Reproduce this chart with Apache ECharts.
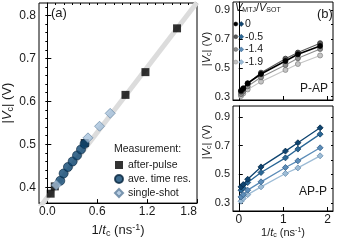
<!DOCTYPE html>
<html><head><meta charset="utf-8">
<script src="https://cdn.jsdelivr.net/npm/echarts@6/dist/echarts.min.js"></script>
<style>html,body{margin:0;padding:0;background:#fff}#c{width:338px;height:243px}</style>
</head><body><div id="c"></div>
<script>
// ---------- Panel (a) data ----------
const fitX = [-0.1, 1.8];
const fitY = [0.351, 0.830];
const afterPulseX = [0.04, 0.09, 0.45, 0.94, 1.18, 1.56];
const afterPulseY = [0.385, 0.402, 0.503, 0.615, 0.668, 0.770];
const aveTimeX = [0.156, 0.196, 0.248, 0.304, 0.357, 0.405, 0.448];
const aveTimeY = [0.415, 0.432, 0.447, 0.460, 0.474, 0.488, 0.501];
const singleShotX = [0.108, 0.489, 0.628, 0.756];
const singleShotY = [0.405, 0.515, 0.542, 0.572];
const xTicksA = [0, 0.6, 1.2, 1.8];
const yTicksA = [0.4, 0.5, 0.6, 0.7, 0.8];
const measNames = ['after-pulse', 'ave. time res.', 'single-shot'];

// ---------- Panel (b) data ----------
const ratioLabels = ['0', '-0.5', '-1.4', '-1.9'];
const bX = [0.05, 0.1, 0.2, 0.5, 1.05, 1.33, 1.83];
const papV0  = [0.342, 0.358, 0.393, 0.457, 0.547, 0.593, 0.651];
const papV05 = [0.335, 0.352, 0.390, 0.466, 0.563, 0.605, 0.670];
const papV14 = [0.318, 0.337, 0.372, 0.434, 0.519, 0.566, 0.630];
const papV19 = [0.305, 0.322, 0.350, 0.404, 0.485, 0.526, 0.585];
const appV0  = [0.412, 0.428, 0.465, 0.551, 0.661, 0.719, 0.823];
const appV05 = [0.389, 0.405, 0.442, 0.512, 0.614, 0.675, 0.779];
const appV14 = [0.342, 0.358, 0.389, 0.447, 0.547, 0.593, 0.684];
const appV19 = [0.312, 0.331, 0.358, 0.412, 0.505, 0.544, 0.628];
const xTicksB = [0, 1, 2];
const yTicksB = [0.3, 0.5, 0.7, 0.9];

// ---------- styling ----------
const FONT = 'Liberation Sans, Arial, sans-serif';
const TXT = '#1a1a1a';
const papColors = ['#000000', '#5a5a5a', '#8e8e8e', '#c4c4c4'];
const papBorders = ['#000000', '#333333', '#5e5e5e', '#8a8a8a'];
const appColors = ['#0e4470', '#2a6796', '#5b8cb8', '#9dbcd6'];
const appBorders = ['#082a47', '#174468', '#36618a', '#6a8fb0'];
const papData = [papV0, papV05, papV14, papV19];
const appData = [appV0, appV05, appV14, appV19];

const zip = (xs, ys) => xs.map((x, i) => [x, ys[i]]);
function steps(a, b, s) { const r = []; const n = Math.round((b - a) / s); for (let i = 0; i <= n; i++) r.push(+(a + i * s).toFixed(4)); return r; }

const rich = {
  i: { fontStyle: 'italic', fontFamily: FONT, fontSize: 13 },
  sub: { fontSize: 9, padding: [6, 0, 0, 0], fontFamily: FONT },
  sup: { fontSize: 9, padding: [0, 0, 6, 0], fontFamily: FONT }
};
const richS = {
  i: { fontStyle: 'italic', fontFamily: FONT, fontSize: 11 },
  sub: { fontSize: 7, padding: [5, 0, 0, 0], fontFamily: FONT },
  sup: { fontSize: 7, padding: [0, 0, 5, 0], fontFamily: FONT }
};

function mainAxis(grid, min, max, ticks, fmt, fs, showLabel) {
  return {
    type: 'value', gridIndex: grid, min, max,
    axisLine: { show: true, lineStyle: { color: '#000', width: 1 } },
    axisTick: { show: true, inside: true, length: 4, customValues: ticks, lineStyle: { color: '#000' } },
    axisLabel: { show: showLabel, customValues: ticks, formatter: fmt, fontSize: fs, color: TXT, fontFamily: FONT, margin: 3 },
    splitLine: { show: false }
  };
}
function minorAxis(grid, min, max, ticks) {
  return {
    type: 'value', gridIndex: grid, min, max,
    axisLine: { show: false },
    axisTick: { show: true, inside: true, length: 2, customValues: ticks, lineStyle: { color: '#000' } },
    axisLabel: { show: false },
    splitLine: { show: false }
  };
}

const aXMin = -0.1, aXMax = 1.8, aYMin = 0.363, aYMax = 0.829;
const bXMin = -0.13, bXMax = 2.12;
const b1YMin = 0.277, b1YMax = 0.955, b2YMin = 0.244, b2YMax = 0.975;

const xAxes = [
  Object.assign(mainAxis(0, aXMin, aXMax, xTicksA, v => v.toFixed(1), 12, true), {
    name: '1/{i|t}{sub|c} (ns{sup|-1})', nameLocation: 'middle', nameGap: 18,
    nameTextStyle: { fontSize: 13, color: TXT, fontFamily: FONT, rich: rich }
  }),
  minorAxis(0, aXMin, aXMax, steps(0, 1.8, 0.1)),
  mainAxis(1, bXMin, bXMax, xTicksB, v => String(v), 11, false),
  Object.assign(mainAxis(2, bXMin, bXMax, xTicksB, v => String(v), 12, true), {
    name: '1/{i|t}{sub|c} (ns{sup|-1})', nameLocation: 'middle', nameGap: 16,
    nameTextStyle: { fontSize: 11, color: TXT, fontFamily: FONT, rich: richS }
  }),
];
xAxes[0].axisLabel.alignMaxLabel = 'right';

const yAxes = [
  Object.assign(mainAxis(0, aYMin, aYMax, yTicksA, v => v.toFixed(1), 12, true), {
    name: '|{i|V}{sub|c}| (V)', nameLocation: 'middle', nameGap: 24,
    nameTextStyle: { fontSize: 13, color: TXT, fontFamily: FONT, rich: rich }
  }),
  minorAxis(0, aYMin, aYMax, steps(0.38, 0.82, 0.02)),
  mainAxis(1, b1YMin, b1YMax, yTicksB, v => v.toFixed(1), 11, true),
  minorAxis(1, b1YMin, b1YMax, steps(0.3, 0.9, 0.1)),
  mainAxis(2, b2YMin, b2YMax, yTicksB, v => v.toFixed(1), 11, true),
  minorAxis(2, b2YMin, b2YMax, steps(0.3, 0.9, 0.1)),
];

const series = [
  { name: 'fit', type: 'line', xAxisIndex: 0, yAxisIndex: 0, data: zip(fitX, fitY), symbol: 'none',
    lineStyle: { color: '#dcdcdc', width: 5 }, z: 1, silent: true },
  { name: measNames[0], type: 'scatter', xAxisIndex: 0, yAxisIndex: 0, data: zip(afterPulseX, afterPulseY),
    symbol: 'rect', symbolSize: 8, itemStyle: { color: '#000' }, z: 3 },
  { name: measNames[1], type: 'scatter', xAxisIndex: 0, yAxisIndex: 0, data: zip(aveTimeX, aveTimeY),
    symbol: 'circle', symbolSize: 9, itemStyle: { color: '#0d4672', borderColor: '#08263f', borderWidth: 0.8 }, z: 4 },
  { name: measNames[2], type: 'scatter', xAxisIndex: 0, yAxisIndex: 0, data: zip(singleShotX, singleShotY),
    symbol: 'diamond', symbolSize: 10, itemStyle: { color: '#a6c2dc', borderColor: '#5f7f9e', borderWidth: 0.8 }, z: 5 },
];
for (let k = 3; k >= 0; k--) {
  series.push({ name: 'P-AP ' + ratioLabels[k], type: 'line', xAxisIndex: 2, yAxisIndex: 2,
    data: zip(bX, papData[k]), symbol: 'circle', symbolSize: 5, showSymbol: true,
    lineStyle: { color: papColors[k], width: k === 0 ? 1.6 : 1.1 },
    itemStyle: { color: papColors[k], borderColor: papBorders[k], borderWidth: 0.8 }, z: 10 - k });
}
for (let k = 3; k >= 0; k--) {
  series.push({ name: 'AP-P ' + ratioLabels[k], type: 'line', xAxisIndex: 3, yAxisIndex: 4,
    data: zip(bX, appData[k]), symbol: 'diamond', symbolSize: 6, showSymbol: true,
    lineStyle: { color: appColors[k], width: 1.3 },
    itemStyle: { color: appColors[k], borderColor: appBorders[k], borderWidth: 0.8 }, z: 10 - k });
}

const legendText = { fontSize: 10, color: TXT, fontFamily: FONT, lineHeight: 12 };
const legendB = (names, left, icon, size) => ({
  data: names, orient: 'vertical', left: left, top: 18, icon: icon,
  itemWidth: size, itemHeight: size, itemGap: 0.7, padding: 0, formatter: () => ' ',
  itemStyle: { borderWidth: 0.5 }, lineStyle: { width: 0, opacity: 0 },
  textStyle: legendText, selectedMode: false
});

const graphics = [
  { type: 'text', left: 51, top: 7, style: { text: '(a)', fontSize: 13, fill: TXT, fontFamily: FONT } },
  { type: 'text', left: 114, top: 144, style: { text: 'Measurement:', fontSize: 10.5, fill: TXT, fontFamily: FONT } },
  { type: 'text', left: 317, top: 8, style: { text: '(b)', fontSize: 13, fill: TXT, fontFamily: FONT } },
  { type: 'text', left: 300, top: 83, style: { text: 'P-AP', fontSize: 12, fill: TXT, fontFamily: FONT } },
  { type: 'text', left: 299, top: 186, style: { text: 'AP-P', fontSize: 12, fill: TXT, fontFamily: FONT } },
  { type: 'text', left: 235, top: 2, style: { text: '{i|V}{sub|MTJ}/{i|V}{sub|SOT}', fontSize: 11, fill: TXT, fontFamily: FONT, rich: richS } },
  { type: 'text', x: 207, y: 49, rotation: Math.PI / 2,
    style: { text: '|{i|V}{sub|c}| (V)', fontSize: 11, fill: TXT, fontFamily: FONT, rich: richS, align: 'center', verticalAlign: 'middle' } },
  { type: 'text', x: 207, y: 142, rotation: Math.PI / 2,
    style: { text: '|{i|V}{sub|c}| (V)', fontSize: 11, fill: TXT, fontFamily: FONT, rich: richS, align: 'center', verticalAlign: 'middle' } },
];
ratioLabels.forEach((r, i) => graphics.push({
  type: 'text', x: 245, y: 24 + i * 12.7,
  style: { text: r, fontSize: 10.5, fill: TXT, fontFamily: FONT, verticalAlign: 'middle' }
}));

const option = {
  animation: false,
  backgroundColor: '#fff',
  grid: [
    { left: 39, top: 3, width: 158, height: 208, show: true, borderColor: '#000', borderWidth: 1 },
    { left: 233, top: 2, width: 100, height: 98, show: true, borderColor: '#000', borderWidth: 1 },
    { left: 233, top: 106, width: 100, height: 105, show: true, borderColor: '#000', borderWidth: 1 },
  ],
  xAxis: xAxes,
  yAxis: yAxes,
  legend: [
    { data: measNames, orient: 'vertical', left: 114, top: 159, itemWidth: 8, itemHeight: 8, itemGap: 2,
      padding: 0, textStyle: { fontSize: 10.5, color: TXT, fontFamily: FONT, lineHeight: 12 }, selectedMode: false },
    legendB(ratioLabels.map(r => 'P-AP ' + r), 233.5, 'circle', 4),
    legendB(ratioLabels.map(r => 'AP-P ' + r), 238.5, 'diamond', 5),
  ],
  graphic: graphics,
  series: series
};
const chart = echarts.init(document.getElementById('c'), null, { renderer: 'canvas' });
chart.setOption(option);
</script></body></html>
